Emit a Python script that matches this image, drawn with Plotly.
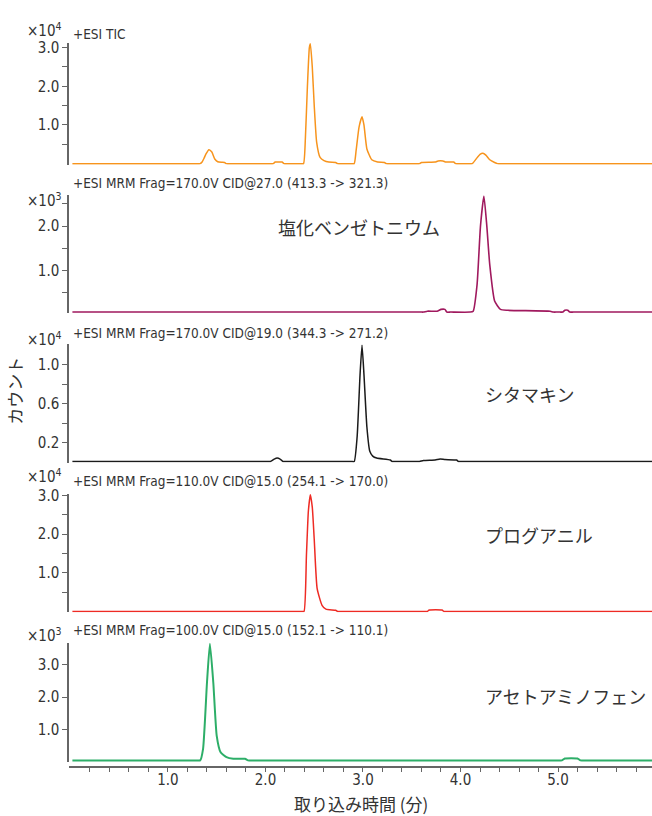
import plotly.graph_objects as go

W, H = 652, 816
LATIN = "Liberation Sans Narrow, DejaVu Sans Condensed, Arial Narrow, sans-serif"
CJK = "Noto Sans CJK JP"

# ---------------- data ----------------
tic_t = [0.02, 0.10, 1.30, 1.33, 1.35, 1.37, 1.39, 1.42, 1.45, 1.48, 1.51, 1.55, 1.58, 1.60, 1.64,
         2.05, 2.08, 2.10, 2.17, 2.19, 2.22,
         2.36, 2.39, 2.41, 2.43, 2.45, 2.46, 2.48, 2.50, 2.525, 2.56, 2.60, 2.65, 2.72, 2.74, 2.78,
         2.88, 2.91, 2.93, 2.96, 2.99, 3.01, 3.04, 3.09, 3.15, 3.22, 3.24, 3.28,
         3.55, 3.58, 3.60, 3.74, 3.77, 3.82, 3.85, 3.93, 3.95, 3.99,
         4.09, 4.12, 4.16, 4.20, 4.23, 4.26, 4.30, 4.35, 4.38, 4.42, 5.90, 5.97]
tic_v = [0.0, 0.0, 0.0, 0.0, 0.04, 0.14, 0.25, 0.36, 0.30, 0.12, 0.05, 0.035, 0.03, 0.0, 0.0,
         0.0, 0.0, 0.04, 0.04, 0.0, 0.0,
         0.0, 0.0, 0.7, 2.0, 3.0, 3.1, 2.5, 1.5, 0.55, 0.16, 0.08, 0.04, 0.03, 0.0, 0.0,
         0.0, 0.0, 0.35, 0.95, 1.21, 1.0, 0.38, 0.10, 0.04, 0.03, 0.0, 0.0,
         0.0, 0.0, 0.03, 0.04, 0.07, 0.07, 0.04, 0.04, 0.0, 0.0,
         0.0, 0.0, 0.12, 0.24, 0.27, 0.22, 0.10, 0.03, 0.0, 0.0, 0.0, 0.0]

benz_t = [0.02, 0.10, 3.59, 3.62, 3.66, 3.76, 3.80, 3.84, 3.86, 3.90,
          4.10, 4.13, 4.17, 4.205, 4.24, 4.27, 4.30, 4.35, 4.41, 4.48, 4.92, 4.95, 4.99,
          5.02, 5.05, 5.07, 5.10, 5.12, 5.16, 5.90, 5.97]
benz_v = [0.06, 0.06, 0.06, 0.06, 0.08, 0.08, 0.12, 0.12, 0.06, 0.06,
          0.06, 0.08, 0.68, 2.0, 2.68, 2.0, 1.13, 0.31, 0.12, 0.10, 0.08, 0.06, 0.06,
          0.06, 0.06, 0.10, 0.10, 0.06, 0.06, 0.06, 0.06]

cim_t = [0.02, 0.10, 2.02, 2.05, 2.09, 2.12, 2.15, 2.18, 2.21,
         2.88, 2.91, 2.94, 2.97, 2.99, 3.01, 3.04, 3.07, 3.10, 3.14, 3.28, 3.30, 3.34,
         3.55, 3.58, 3.62, 3.74, 3.79, 3.84, 3.96, 3.98, 4.02, 5.90, 5.97]
cim_v = [0.005, 0.005, 0.005, 0.005, 0.03, 0.04, 0.03, 0.005, 0.005,
         0.005, 0.005, 0.26, 0.9, 1.2, 0.9, 0.36, 0.11, 0.06, 0.04, 0.02, 0.005, 0.005,
         0.005, 0.005, 0.015, 0.02, 0.03, 0.025, 0.02, 0.005, 0.005, 0.005, 0.005]

prog_t = [0.02, 0.10, 2.37, 2.395, 2.42, 2.44, 2.46, 2.48, 2.50, 2.53, 2.58, 2.62, 2.72, 2.74, 2.78,
          3.63, 3.66, 3.68, 3.81, 3.83, 3.87, 5.90, 5.97]
prog_v = [0.0, 0.0, 0.0, 0.0, 1.45, 2.6, 3.02, 2.7, 1.87, 0.59, 0.16, 0.06, 0.03, 0.0, 0.0,
          0.0, 0.0, 0.04, 0.04, 0.0, 0.0, 0.0, 0.0]

acet_t = [0.02, 0.10, 1.30, 1.33, 1.36, 1.40, 1.43, 1.465, 1.50, 1.54, 1.60, 1.67, 1.79, 1.82, 1.86,
          5.01, 5.04, 5.07, 5.20, 5.23, 5.27, 5.90, 5.97]
acet_v = [0.04, 0.04, 0.04, 0.04, 0.4, 2.45, 3.66, 2.45, 0.8, 0.29, 0.14, 0.09, 0.09, 0.04, 0.04,
          0.04, 0.04, 0.1, 0.1, 0.04, 0.04, 0.04, 0.04]

headers = ["+ESI TIC",
           "+ESI MRM Frag=170.0V CID@27.0 (413.3 -> 321.3)",
           "+ESI MRM Frag=170.0V CID@19.0 (344.3 -> 271.2)",
           "+ESI MRM Frag=110.0V CID@15.0 (254.1 -> 170.0)",
           "+ESI MRM Frag=100.0V CID@15.0 (152.1 -> 110.1)"]
exponents = ["4", "3", "4", "4", "3"]
compounds = ["", "塩化ベンゼトニウム", "シタマキン", "プログアニル", "アセトアミノフェン"]
colors = ["#F7941D", "#A0195E", "#1A1A1A", "#EE2B24", "#2DAE68"]

y_tickvals = [[0.5, 1.0, 1.5, 2.0, 2.5, 3.0],
              [0.5, 1.0, 1.5, 2.0, 2.5],
              [0.2, 0.4, 0.6, 0.8, 1.0],
              [0.5, 1.0, 1.5, 2.0, 2.5, 3.0],
              [1.0, 2.0, 3.0]]
y_ticktext = [["", "1.0", "", "2.0", "", "3.0"],
              ["", "1.0", "", "2.0", ""],
              ["0.2", "", "0.6", "", "1.0"],
              ["", "1.0", "", "2.0", "", "3.0"],
              ["1.0", "2.0", "3.0"]]
y_ranges = [[-0.026, 3.128], [0.031, 2.693], [-0.006, 1.213], [-0.0205, 3.044], [-0.009, 3.698]]

x_tickvals = [round(0.2 * i, 1) for i in range(1, 30)]
x_ticktext = [f"{v:.1f}" if abs(v - round(v)) < 1e-9 else "" for v in x_tickvals]

series_t = [tic_t, benz_t, cim_t, prog_t, acet_t]
series_v = [tic_v, benz_v, cim_v, prog_v, acet_v]
line_w = [1.5, 1.6, 1.5, 1.5, 2.0]

# ---------------- layout geometry (pixels) ----------------
def py(p):
    return 1 - p / H

def px(p):
    return p / W

panel_px = [(36, 159), (190, 309), (340, 459.5), (491, 610.5), (641, 761.5)]
exp_y = [23, 195, 335, 473, 633]
head_y = [27, 178, 329, 478, 628]
comp_pos = [None, (276, 222), (483, 390), (483, 533), (483, 695)]

x_left_px = 69
x_range = [-0.015, 5.964]

fig = go.Figure()
layout = dict(width=W, height=H, margin=dict(l=0, r=0, t=0, b=0),
              paper_bgcolor="white", plot_bgcolor="white", showlegend=False)
annotations = []

for i in range(5):
    n = "" if i == 0 else str(i + 1)
    fig.add_trace(go.Scatter(x=series_t[i], y=series_v[i], mode="lines",
                             line=dict(color=colors[i], width=line_w[i],
                                       shape="spline", smoothing=0.5),
                             xaxis="x" + n, yaxis="y" + n, hoverinfo="skip"))
    top, bot = panel_px[i]
    xa = dict(domain=[px(x_left_px), 1], range=x_range, showgrid=False, zeroline=False)
    if i < 4:
        xa.update(visible=False, matches="x5", anchor="y" + n)
    else:
        xa.update(anchor="free", position=py(767), showline=True, linecolor="#666666",
                  linewidth=1.5, ticks="outside", ticklen=4, tickwidth=1, tickcolor="#666666",
                  tickmode="array", tickvals=x_tickvals, ticktext=x_ticktext,
                  ticklabelstandoff=-5,
                  tickfont=dict(family=LATIN, size=15, color="#333333"))
    layout["xaxis" + n] = xa
    layout["yaxis" + n] = dict(domain=[py(bot), py(top)], anchor="x" + n, range=y_ranges[i],
                               showgrid=False, zeroline=False, showline=True,
                               linecolor="#666666", linewidth=1.5, ticks="outside",
                               ticklen=5, tickwidth=1, tickcolor="#666666",
                               tickmode="array", tickvals=y_tickvals[i], ticktext=y_ticktext[i],
                               tickfont=dict(family=LATIN, size=15, color="#333333"))
    annotations.append(dict(xref="paper", yref="paper", x=px(64), y=py(exp_y[i]),
                            xanchor="right", yanchor="middle", showarrow=False,
                            text="×10<sup>" + exponents[i] + "</sup>",
                            font=dict(family=LATIN, size=15, color="#333333")))
    annotations.append(dict(xref="paper", yref="paper", x=px(71), y=py(head_y[i]),
                            xanchor="left", yanchor="middle", showarrow=False,
                            text=headers[i], font=dict(family=LATIN, size=13.5, color="#333333")))
    if compounds[i]:
        cx, cy = comp_pos[i]
        annotations.append(dict(xref="paper", yref="paper", x=px(cx), y=py(cy),
                                xanchor="left", yanchor="middle", showarrow=False,
                                text=compounds[i], font=dict(family=CJK, size=18, color="#333333")))

annotations.append(dict(xref="paper", yref="paper", x=px(15), y=py(387), textangle=-90,
                        xanchor="center", yanchor="middle", showarrow=False, text="カウント",
                        font=dict(family=CJK, size=17, color="#333333")))
annotations.append(dict(xref="paper", yref="paper", x=px(361), y=py(803),
                        xanchor="center", yanchor="middle", showarrow=False,
                        text="取り込み時間 (分)", font=dict(family=CJK, size=17, color="#333333")))
layout["annotations"] = annotations
fig.update_layout(**layout)
fig.write_html("out.html")
